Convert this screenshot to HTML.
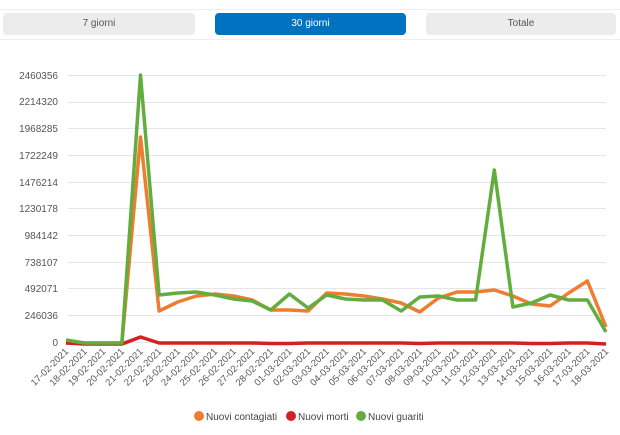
<!DOCTYPE html>
<html><head><meta charset="utf-8"><style>
body{margin:0;background:#fff;width:620px;height:435px;overflow:hidden;font-family:"Liberation Sans",sans-serif}
.btn{position:absolute;top:13px;height:22px;border-radius:4px;background:#ececec;color:#555;font-size:10px;text-align:center;line-height:22px}
</style></head><body>
<div style="position:absolute;left:0;top:9px;width:620px;height:1px;background:#eee"></div>
<div class="btn" style="left:3px;width:192px">7 giorni</div>
<div class="btn" style="left:215px;width:191px;background:#0073c0;color:#fff">30 giorni</div>
<div class="btn" style="left:426px;width:190px">Totale</div>
<div style="position:absolute;left:0;top:39px;width:620px;height:1px;background:#eee"></div>
<svg width="620" height="435" style="position:absolute;left:0;top:0" font-family="Liberation Sans, sans-serif">
<g stroke="#e6e6e6" stroke-width="1">
<line x1="68" x2="606" y1="75.5" y2="75.5"/><line x1="68" x2="606" y1="102.5" y2="102.5"/><line x1="68" x2="606" y1="128.5" y2="128.5"/><line x1="68" x2="606" y1="155.5" y2="155.5"/><line x1="68" x2="606" y1="182.5" y2="182.5"/><line x1="68" x2="606" y1="208.5" y2="208.5"/><line x1="68" x2="606" y1="235.5" y2="235.5"/><line x1="68" x2="606" y1="262.5" y2="262.5"/><line x1="68" x2="606" y1="288.5" y2="288.5"/><line x1="68" x2="606" y1="315.5" y2="315.5"/><line x1="68" x2="606" y1="342.5" y2="342.5"/>
</g>
<g font-size="10" fill="#555" text-anchor="end">
<text x="58" y="79">2460356</text><text x="58" y="105">2214320</text><text x="58" y="132">1968285</text><text x="58" y="159">1722249</text><text x="58" y="186">1476214</text><text x="58" y="212">1230178</text><text x="58" y="239">984142</text><text x="58" y="266">738107</text><text x="58" y="292">492071</text><text x="58" y="319">246036</text><text x="58" y="346">0</text>
</g>
<g fill="none" stroke-width="3.5" stroke-linejoin="round">
<polyline stroke="#ed7d31" points="66,343 84.6,343 103.2,343 121.9,343 140.5,137 159.1,311 177.7,302 196.3,296 215,294 233.6,296 252.2,300 270.8,310 289.4,310 308.1,311 326.7,293 345.3,294 363.9,296 382.5,299 401.2,303 419.8,312 438.4,298 457,292 475.6,292 494.3,290 512.9,296 531.5,304 550.1,306 568.7,293 587.4,281 606,327"/>
<polyline stroke="#d42020" points="66,343 84.6,344 103.2,344 121.9,344 140.5,337 159.1,343 177.7,343 196.3,343 215,343 233.6,343 252.2,343 270.8,343.5 289.4,343.5 308.1,343 326.7,343 345.3,343 363.9,343 382.5,343 401.2,343 419.8,343.5 438.4,343 457,343 475.6,343 494.3,343 512.9,343 531.5,343.5 550.1,343.5 568.7,343 587.4,343 606,344"/>
<polyline stroke="#63ad3f" points="66,340 84.6,343 103.2,343 121.9,343 140.5,75 159.1,295 177.7,293 196.3,292 215,295 233.6,299 252.2,301 270.8,310 289.4,294 308.1,308 326.7,295 345.3,299 363.9,300 382.5,300 401.2,311 419.8,297 438.4,296 457,300 475.6,300 494.3,170 512.9,307 531.5,303 550.1,295 568.7,300 587.4,300 606,332"/>
</g>
<g font-size="9.5" fill="#555" text-anchor="end">
<text transform="translate(69,352) rotate(-45)">17-02-2021</text><text transform="translate(87.6,352) rotate(-45)">18-02-2021</text><text transform="translate(106.2,352) rotate(-45)">19-02-2021</text><text transform="translate(124.9,352) rotate(-45)">20-02-2021</text><text transform="translate(143.5,352) rotate(-45)">21-02-2021</text><text transform="translate(162.1,352) rotate(-45)">22-02-2021</text><text transform="translate(180.7,352) rotate(-45)">23-02-2021</text><text transform="translate(199.3,352) rotate(-45)">24-02-2021</text><text transform="translate(218,352) rotate(-45)">25-02-2021</text><text transform="translate(236.6,352) rotate(-45)">26-02-2021</text><text transform="translate(255.2,352) rotate(-45)">27-02-2021</text><text transform="translate(273.8,352) rotate(-45)">28-02-2021</text><text transform="translate(292.4,352) rotate(-45)">01-03-2021</text><text transform="translate(311.1,352) rotate(-45)">02-03-2021</text><text transform="translate(329.7,352) rotate(-45)">03-03-2021</text><text transform="translate(348.3,352) rotate(-45)">04-03-2021</text><text transform="translate(366.9,352) rotate(-45)">05-03-2021</text><text transform="translate(385.5,352) rotate(-45)">06-03-2021</text><text transform="translate(404.2,352) rotate(-45)">07-03-2021</text><text transform="translate(422.8,352) rotate(-45)">08-03-2021</text><text transform="translate(441.4,352) rotate(-45)">09-03-2021</text><text transform="translate(460,352) rotate(-45)">10-03-2021</text><text transform="translate(478.6,352) rotate(-45)">11-03-2021</text><text transform="translate(497.3,352) rotate(-45)">12-03-2021</text><text transform="translate(515.9,352) rotate(-45)">13-03-2021</text><text transform="translate(534.5,352) rotate(-45)">14-03-2021</text><text transform="translate(553.1,352) rotate(-45)">15-03-2021</text><text transform="translate(571.7,352) rotate(-45)">16-03-2021</text><text transform="translate(590.4,352) rotate(-45)">17-03-2021</text><text transform="translate(609,352) rotate(-45)">18-03-2021</text>
</g>
<g font-size="10" fill="#444">
<circle cx="199" cy="416" r="5" fill="#ed7d31"/><text x="206" y="420">Nuovi contagiati</text>
<circle cx="291" cy="416" r="5" fill="#d42020"/><text x="298" y="420">Nuovi morti</text>
<circle cx="361" cy="416" r="5" fill="#63ad3f"/><text x="368" y="420">Nuovi guariti</text>
</g>
</svg>
</body></html>
